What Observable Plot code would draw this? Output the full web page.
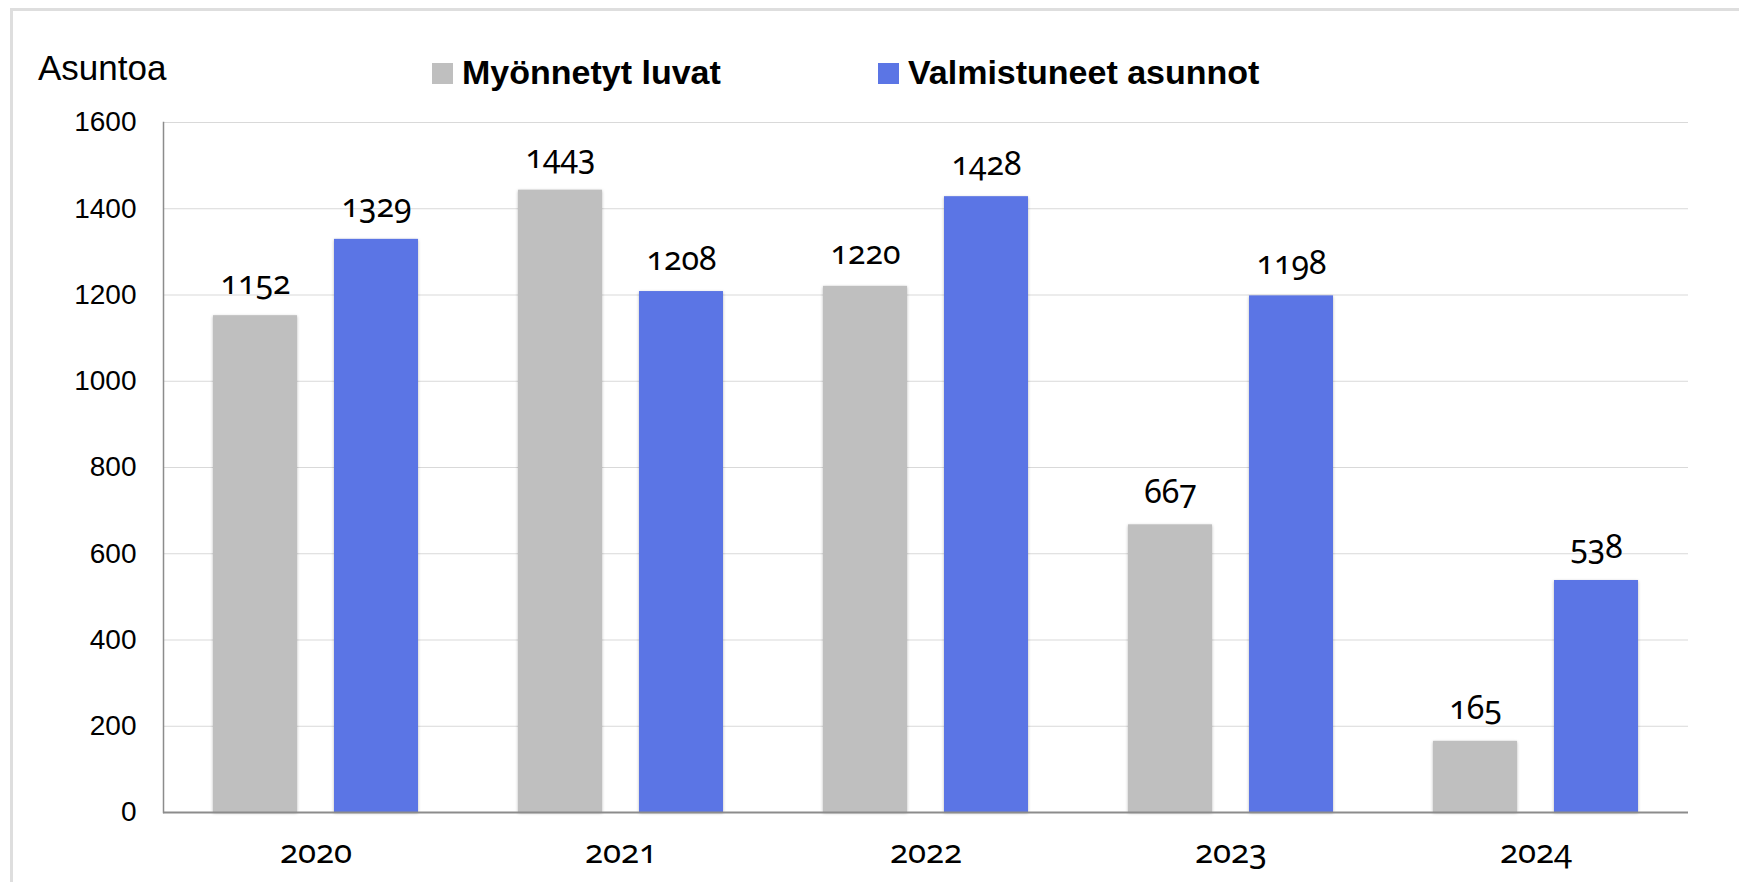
<!DOCTYPE html>
<html>
<head>
<meta charset="utf-8">
<script src="https://cdn.jsdelivr.net/npm/d3@7"></script>
<script src="https://cdn.jsdelivr.net/npm/@observablehq/plot@0.6"></script>
<style>
  html, body { margin: 0; padding: 0; background: #fff; }
  #wrap { position: relative; width: 1739px; height: 882px; overflow: hidden; }
  #frameBox { position: absolute; left: 10px; top: 8px; width: 1760px; height: 900px;
    border-top: 3px solid #dedede; border-left: 3px solid #dedede; box-sizing: border-box; pointer-events: none; }
  #header { position: relative; height: 100px; font-family: "Liberation Sans", Arial, sans-serif; }
  #ylabel { position: absolute; left: 38px; top: 48px; font-size: 35px; line-height: 40px; color: #000; }
  .leg { position: absolute; top: 52px; font-size: 34px; line-height: 40px; font-weight: bold; color: #000; white-space: nowrap; }
  .sw { position: absolute; width: 21px; height: 21px; }
  #chart svg g[aria-label="text"] text,
  #chart svg g[aria-label="fx-axis tick label"] text {
    font-family: "Noto Sans", sans-serif;
    font-variant-numeric: oldstyle-nums;
    font-feature-settings: "onum" 1;
  }
  #chart svg g[aria-label="bar"] rect { filter: drop-shadow(0px 1px 1.5px rgba(0,0,0,0.28)); }
</style>
</head>
<body>
<div id="wrap">
  <div id="frameBox"></div>
  <div id="header">
    <div id="ylabel"></div>
    <div id="legend"></div>
  </div>
  <div id="chart"></div>
</div>
<script>
const yAxisLabel = "Asuntoa";
const years = ["2020", "2021", "2022", "2023", "2024"];
const seriesNames = ["Myönnetyt luvat", "Valmistuneet asunnot"];
const luvat = [1152, 1443, 1220, 667, 165];
const valmistuneet = [1329, 1208, 1428, 1198, 538];
const seriesColors = ["#bfbfbf", "#5b75e5"];
const yTicks = [0, 200, 400, 600, 800, 1000, 1200, 1400, 1600];

const table = [];
years.forEach((yr, i) => {
  table.push({year: yr, series: seriesNames[0], value: luvat[i]});
  table.push({year: yr, series: seriesNames[1], value: valmistuneet[i]});
});

// header: y label + legend
document.getElementById("ylabel").textContent = yAxisLabel;
const legend = document.getElementById("legend");
const legPos = [{sq: 432, tx: 462}, {sq: 878, tx: 908}];
seriesNames.forEach((name, i) => {
  const sw = document.createElement("div");
  sw.className = "sw";
  sw.style.left = legPos[i].sq + "px";
  sw.style.top = "63px";
  sw.style.background = seriesColors[i];
  legend.appendChild(sw);
  const t = document.createElement("div");
  t.className = "leg";
  t.style.left = legPos[i].tx + "px";
  t.textContent = name;
  legend.appendChild(t);
});

const plot = Plot.plot({
  width: 1739,
  height: 782,
  marginTop: 22,
  marginBottom: 70,
  marginLeft: 162,
  marginRight: 51,
  style: {fontFamily: "Liberation Sans, Arial, sans-serif", color: "#000", background: "transparent"},
  fx: {domain: years, padding: 0, axis: null},
  x: {domain: seriesNames, paddingInner: 0.306, paddingOuter: 0.405, axis: null},
  y: {domain: [0, 1600], axis: null},
  color: {domain: seriesNames, range: seriesColors},
  marks: [
    Plot.gridY(yTicks, {stroke: "#d9d9d9", strokeOpacity: 1, strokeWidth: 1}),
    Plot.barY(table, {fx: "year", x: "series", y: "value", fill: "series"}),
    Plot.ruleY([0], {stroke: "#8c8c8c", strokeWidth: 2}),
    Plot.frame({anchor: "left", stroke: "#8c8c8c", strokeWidth: 1.5, facet: "super"}),
    Plot.text(table, {
      fx: "year", x: "series", y: "value", text: d => String(d.value),
      lineAnchor: "bottom", dy: -22, fontSize: 32, fill: "#000"
    }),
    Plot.axisY(yTicks, {
      tickSize: 0, tickPadding: 27, fontSize: 28, label: null,
      tickFormat: d => String(d), fill: "#000"
    }),
    Plot.axisFx({
      anchor: "bottom", tickSize: 0, tickPadding: 27, fontSize: 33, label: null, fill: "#000"
    })
  ]
});
document.getElementById("chart").appendChild(plot);
</script>
</body>
</html>
